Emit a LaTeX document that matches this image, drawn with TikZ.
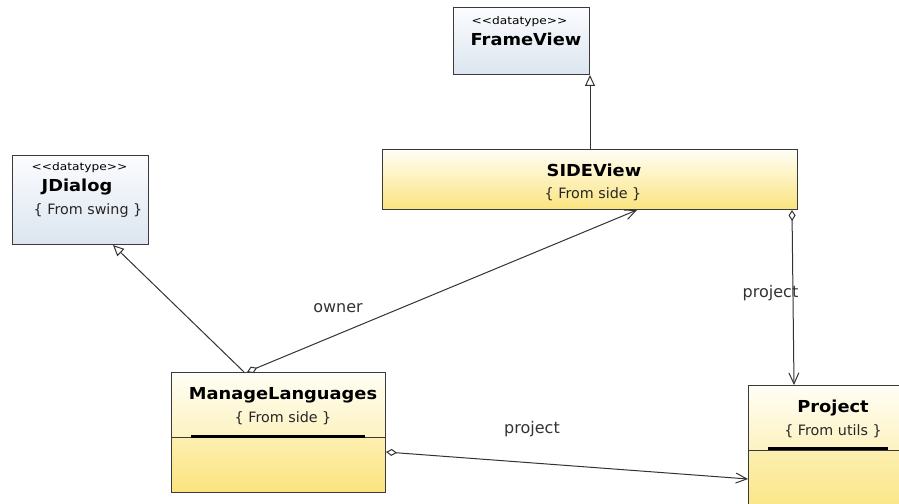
\documentclass[tikz,border=0pt]{standalone}
\usepackage{fontspec}
\setmainfont{DejaVu Sans}
\newfontfamily\titlefont[FakeStretch=1.08]{DejaVu Sans Bold}
\newfontfamily\stereofont[FakeStretch=1.15]{DejaVu Sans}
\usetikzlibrary{arrows.meta,calc}

\definecolor{edge}{HTML}{3A3A3A}
\definecolor{wire}{HTML}{333333}
\definecolor{blueTop}{HTML}{FBFCFE}
\definecolor{blueBot}{HTML}{DCE5F0}
\definecolor{yelTop}{HTML}{FFFEF6}
\definecolor{yelMid}{HTML}{FDF2C0}
\definecolor{yelLow}{HTML}{FCEFB0}
\definecolor{yelBot}{HTML}{FBE47E}

\tikzset{
  box/.style={draw=edge, line width=1bp, rectangle, inner sep=0pt, anchor=north west},
  datatypebox/.style={box, top color=blueTop, bottom color=blueBot},
  classbox/.style={box, top color=yelTop, bottom color=yelBot},
  headbox/.style={box, top color=yelTop, bottom color=yelMid},
  opsbox/.style={box, top color=yelLow, bottom color=yelBot},
  stereo/.style={anchor=base, inner sep=0pt, font=\stereofont\fontsize{10.6bp}{12bp}\selectfont},
  title/.style={anchor=base, inner sep=0pt, font=\titlefont\fontsize{16.5bp}{18bp}\selectfont},
  origin/.style={anchor=base, inner sep=0pt, font=\fontsize{14.3bp}{16bp}\selectfont, text=black!85},
  rolelabel/.style={anchor=base, inner sep=0pt, font=\fontsize{16bp}{18bp}\selectfont, text=wire},
  bar/.style={line width=3bp, black},
  generalize/.style={draw=wire, line width=1bp,
    -{Triangle[open, length=11bp, width=10bp, fill=white]}},
  aggregate/.style={draw=wire, line width=1bp,
    {Diamond[open, length=11bp, width=7bp, fill=white]}-{Straight Barb[length=11bp, width=10bp]}},
}

\begin{document}
\begin{tikzpicture}[x=1bp, y=-1bp]
  \useasboundingbox (0,0) rectangle (899,504);
  \fill[white] (0,0) rectangle (899,504);

  % datatype boxes
  \node[datatypebox, minimum width=136bp, minimum height=67bp] (frameview) at (453,7) {};
  \node[stereo] (frameview-st) at (519.5,24.5) {<<datatype>>};
  \node[title]  (frameview-nm) at (526,45.5) {FrameView};

  \node[datatypebox, minimum width=136bp, minimum height=89bp] (jdialog) at (12,155) {};
  \node[stereo] (jdialog-st) at (79.5,170.5) {<<datatype>>};
  \node[title]  (jdialog-nm) at (77,192) {JDialog};
  \node[origin] (jdialog-or) at (88,215) {\{ From swing \}};

  % SIDEView
  \node[classbox, minimum width=415bp, minimum height=60bp] (sideview) at (382,149) {};
  \node[title]  (sideview-nm) at (594,176.5) {SIDEView};
  \node[origin] (sideview-or) at (593,198.5) {\{ From side \}};

  % ManageLanguages
  \node[headbox, minimum width=214bp, minimum height=65bp] (manage) at (171,372) {};
  \node[opsbox,  minimum width=214bp, minimum height=55bp] (manage-ops) at (171,437) {};
  \draw[bar] ($(manage.south west)+(20,-2)$) -- ($(manage.south east)+(-21,-2)$);
  \node[title]  (manage-nm) at (283,399) {ManageLanguages};
  \node[origin] (manage-or) at (283,422.5) {\{ From side \}};

  % Project
  \node[headbox, minimum width=160bp, minimum height=65bp] (project) at (748,385) {};
  \node[opsbox,  minimum width=160bp, minimum height=70bp] (project-ops) at (748,450) {};
  \draw[bar] ($(project.south west)+(20,-2.5)$) -- ($(project.south west)+(140,-2.5)$);
  \node[title]  (project-nm) at (833,412) {Project};
  \node[origin] (project-or) at (833,435) {\{ From utils \}};

  % connector end points on the box borders
  \coordinate (sv-top)    at ($(sideview.north west)+(208,0)$);
  \coordinate (fv-bottom) at ($(frameview.south west)+(137,0)$);
  \coordinate (ml-gen)    at ($(manage.north west)+(73,0)$);
  \coordinate (jd-bottom) at ($(jdialog.south west)+(101,0)$);
  \coordinate (ml-owner)  at ($(manage.north west)+(76,0)$);
  \coordinate (sv-owner)  at ($(sideview.south west)+(255,0)$);
  \coordinate (sv-proj)   at ($(sideview.south west)+(410,0)$);
  \coordinate (pr-top)    at ($(project.north west)+(46,0)$);
  \coordinate (ml-proj)   at ($(manage-ops.north east)+(0,15)$);
  \coordinate (pr-left)   at ($(project-ops.north west)+(0,29)$);

  % generalizations
  \draw[generalize] (sv-top) -- (fv-bottom);
  \draw[generalize] (ml-gen) -- (jd-bottom);

  % associations
  \draw[aggregate] (ml-owner) -- (sv-owner);
  \draw[aggregate] (sv-proj) -- (pr-top);
  \draw[aggregate] (ml-proj) -- (pr-left);

  % role names
  \node[rolelabel] (owner-lb) at (338,313) {owner};
  \node[rolelabel] (proj-lb1) at (770.5,297.5) {project};
  \node[rolelabel] (proj-lb2) at (532,433) {project};
\end{tikzpicture}
\end{document}
